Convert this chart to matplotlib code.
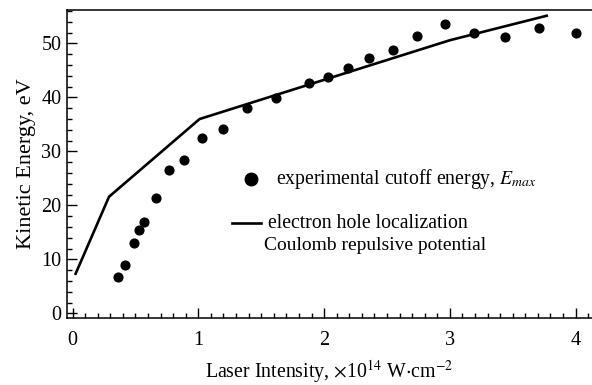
import numpy as np
import matplotlib
matplotlib.use("Agg")
import matplotlib.pyplot as plt
from matplotlib.ticker import MultipleLocator

# experimental cutoff energy (dots)
exp_x = [0.36, 0.42, 0.49, 0.53, 0.57, 0.66, 0.77, 0.89, 1.03, 1.20, 1.39, 1.62,
         1.88, 2.03, 2.19, 2.36, 2.55, 2.74, 2.96, 3.19, 3.44, 3.71, 4.00]
exp_y = [6.7, 8.9, 13.0, 15.4, 17.0, 21.4, 26.5, 28.5, 32.5, 34.1, 38.1, 39.9,
         42.7, 43.8, 45.5, 47.4, 48.7, 51.3, 53.6, 52.0, 51.2, 52.8, 52.0]

# model curve (electron hole localization)
model_x = [0.02, 0.29, 1.01, 3.0, 3.78]
model_y = [7.1, 21.6, 36.0, 50.6, 55.2]

plt.rcParams['font.family'] = ['Liberation Serif', 'DejaVu Serif']
plt.rcParams['mathtext.fontset'] = 'stix'

fig = plt.figure(figsize=(5.92, 3.85), dpi=100)
ax = fig.add_axes([0.1132, 0.174, 0.8868, 0.8])

ax.plot(model_x, model_y, color='black', lw=1.9, solid_capstyle='butt')
ax.plot(exp_x, exp_y, 'o', color='black', ms=6.3)

# legend drawn by hand
ax.plot([1.419], [24.9], 'o', color='black', ms=9)
ax.text(1.62, 24.9, r'experimental cutoff energy, $E_{max}$', fontsize=14.2, va='center')
ax.plot([1.268, 1.498], [16.7, 16.7], color='black', lw=1.9)
ax.text(1.555, 16.7, 'electron hole localization', fontsize=14.2, va='center')
ax.text(1.52, 12.6, 'Coulomb repulsive potential', fontsize=14, va='center')

ax.set_xlim(-0.044, 4.13)
ax.set_ylim(-0.87, 56.2)
ax.xaxis.set_major_locator(MultipleLocator(1))
ax.xaxis.set_minor_locator(MultipleLocator(0.1))
ax.yaxis.set_major_locator(MultipleLocator(10))
ax.yaxis.set_minor_locator(MultipleLocator(2))
ax.tick_params(which='both', direction='in', labelsize=14.5, width=1)
ax.tick_params(which='major', length=7)
ax.tick_params(which='minor', length=3.5)
ax.tick_params(axis='x', pad=9)
ax.tick_params(axis='y', pad=4)
ax.spines['right'].set_visible(False)
for s in ['left', 'bottom', 'top']:
    ax.spines[s].set_linewidth(1.1)

ax.set_xlabel(r'Laser Intensity, $\times$10$^{14}$ W$\cdot$cm$^{-2}$', fontsize=14.3, labelpad=6)
ax.set_ylabel('Kinetic Energy, eV', fontsize=16, labelpad=4)

fig.savefig('out.png', dpi=100)
